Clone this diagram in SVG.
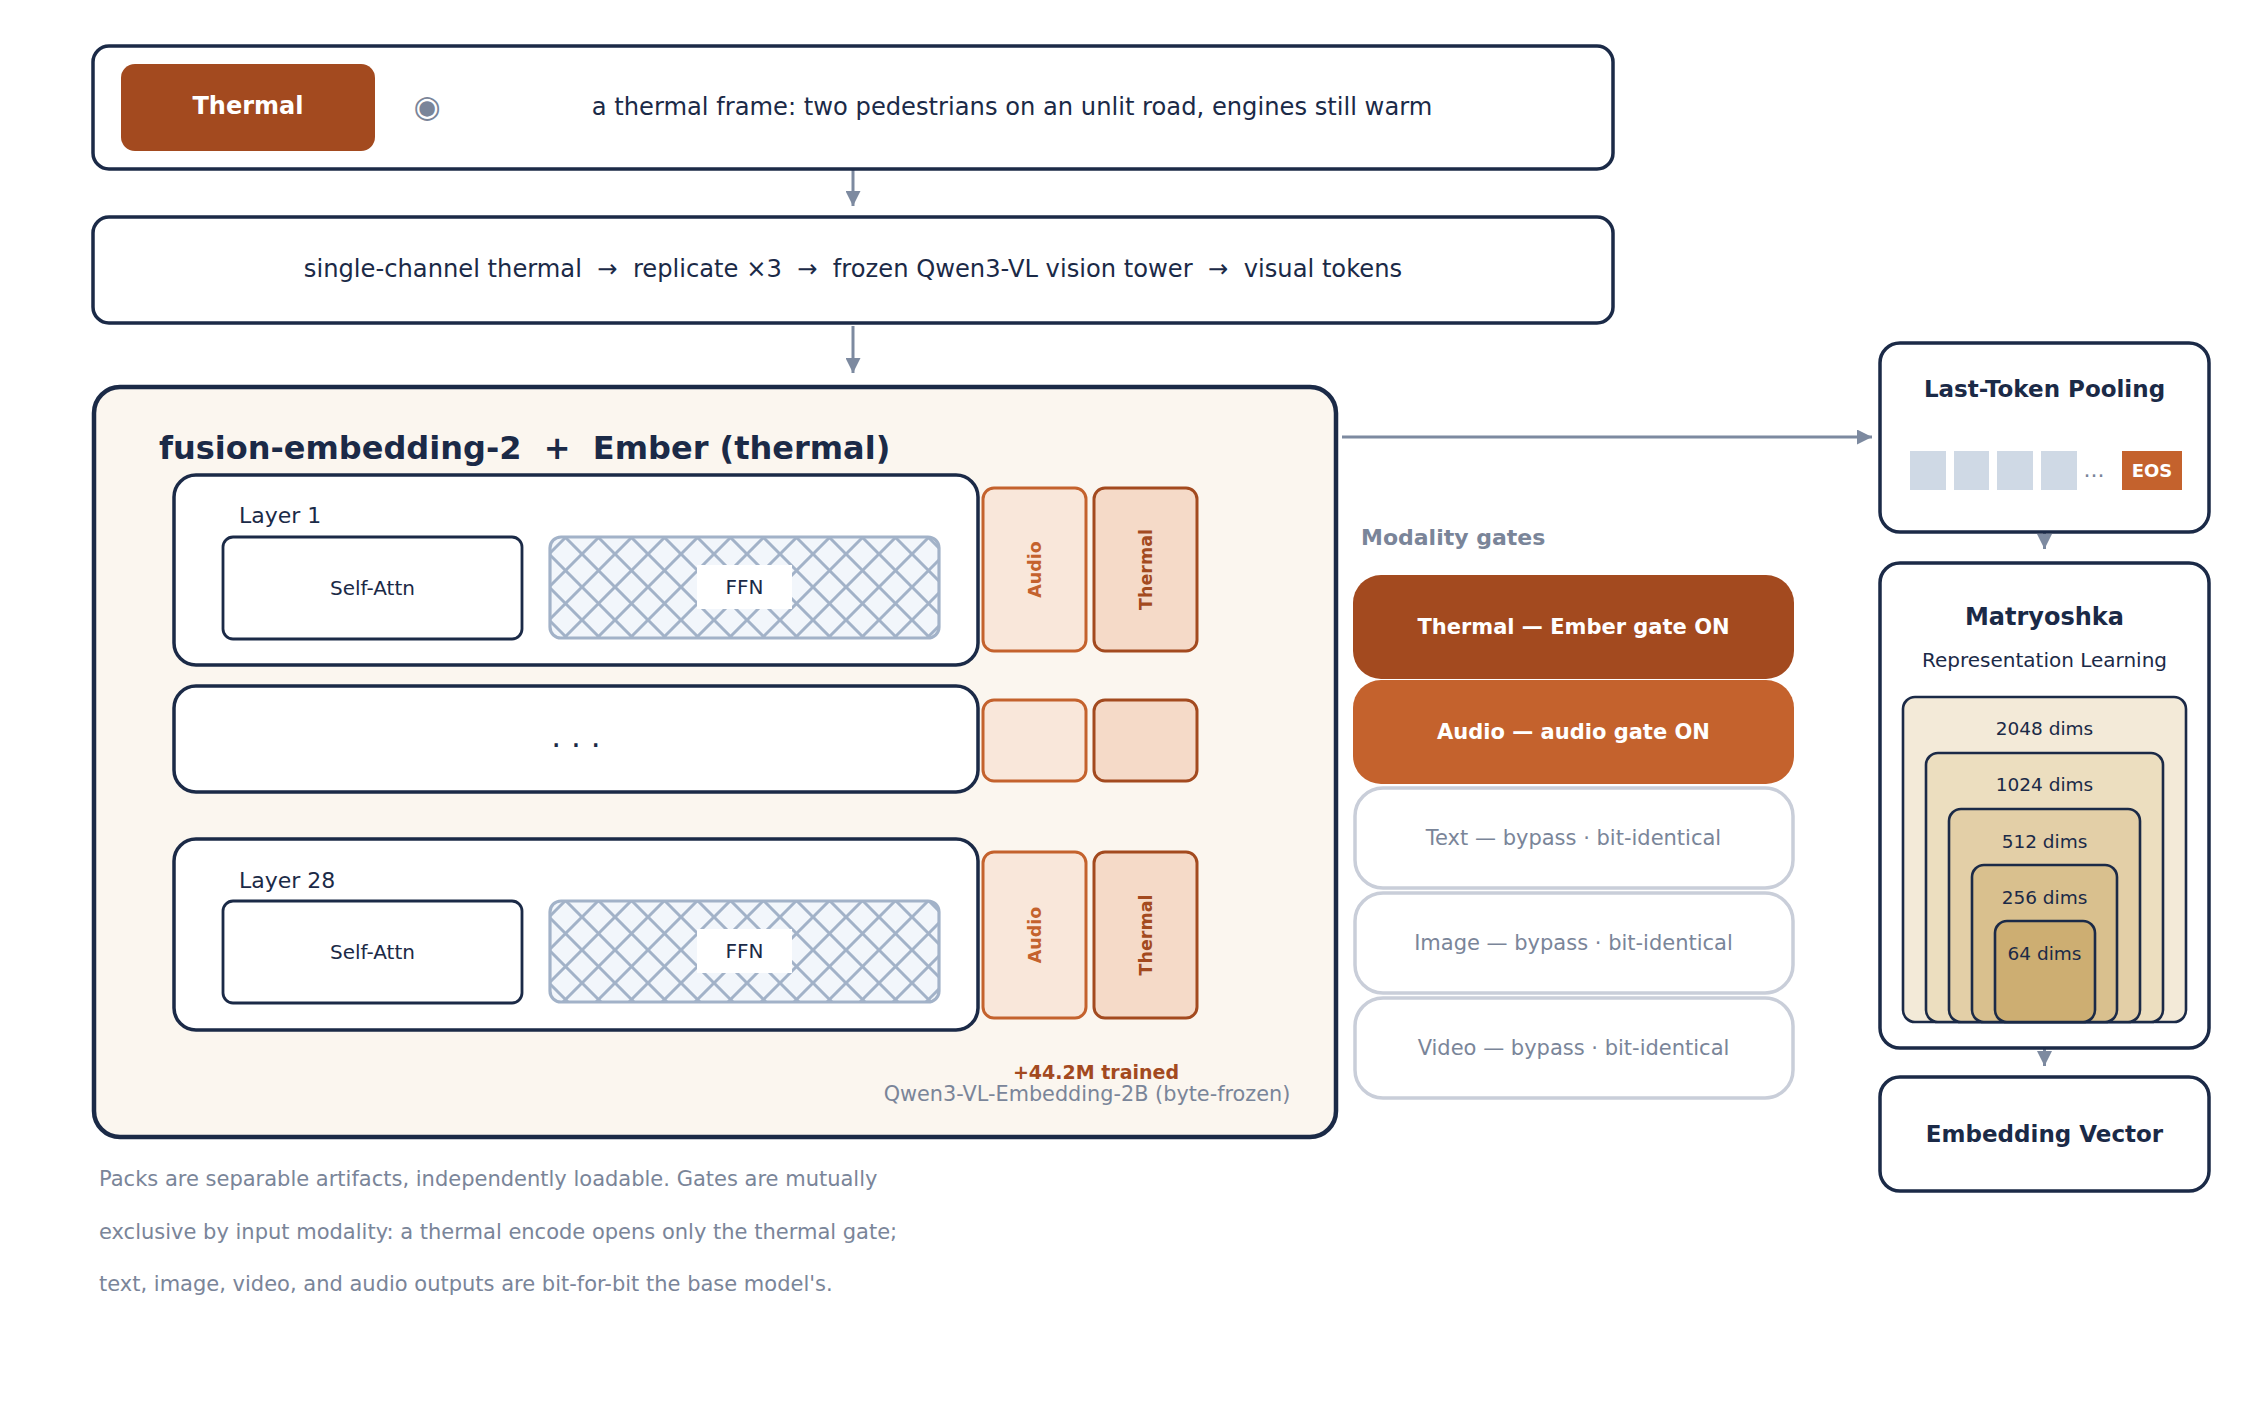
<svg xmlns="http://www.w3.org/2000/svg" width="2263" height="1403" viewBox="0 0 2263 1403">
<defs>
<style>
text{font-family:"DejaVu Sans","Liberation Sans",sans-serif;fill:#1b2a47}
.b{font-weight:bold}
.box{fill:#fff;stroke:#1b2a47;stroke-width:3.5}
.lay{fill:#fff;stroke:#1b2a47;stroke-width:3.5}
.sa{fill:#fff;stroke:#1b2a47;stroke-width:2.8}
.ffn{fill:url(#hatch);stroke:#a2b2c8;stroke-width:3.2}
.au{fill:#f9e7da;stroke:#c4622d;stroke-width:3}
.th{fill:#f5dac8;stroke:#a34a1f;stroke-width:3}
.aut{fill:#c4622d;font-weight:bold;font-size:17.5px}
.tht{fill:#a34a1f;font-weight:bold;font-size:17.5px}
.byp{fill:#fff;stroke:#c9ced9;stroke-width:3.5}
.bypt{fill:#7a8599;font-size:21px}
.ont{fill:#fff;font-weight:bold;font-size:21px}
.gray{fill:#7a8599}
.tok{fill:#cfd9e5}
.nest{stroke:#1b2a47;stroke-width:2.6}
.dim{font-size:18.5px}
.conn{stroke:#7d8aa0;stroke-width:3;fill:none}
</style>
<pattern id="hatch" width="33" height="33" patternUnits="userSpaceOnUse" x="549" y="521">
<rect width="33" height="33" fill="#f2f6fb"/>
<path d="M0,0L33,33M33,0L0,33M-2,31L2,35M31,-2L35,2M-2,2L2,-2M31,35L35,31" stroke="#a2b2c8" stroke-width="3" fill="none"/>
</pattern>
<marker id="ah" markerUnits="userSpaceOnUse" markerWidth="16" markerHeight="15" refX="15" refY="7.5" orient="auto">
<path d="M0,0L15,7.5L0,15z" fill="#7d8aa0"/>
</marker>
</defs>
<rect width="2263" height="1403" fill="#fff"/>

<g id="connectors">
<line class="conn" x1="853" y1="170" x2="853" y2="206" marker-end="url(#ah)"/>
<line class="conn" x1="853" y1="326" x2="853" y2="373" marker-end="url(#ah)"/>
<line class="conn" x1="1342" y1="437" x2="1872" y2="437" marker-end="url(#ah)"/>
<line class="conn" x1="2044.5" y1="532" x2="2044.5" y2="549" marker-end="url(#ah)"/>
<line class="conn" x1="2044.5" y1="1048" x2="2044.5" y2="1066" marker-end="url(#ah)"/>
</g>

<g id="input">
<rect class="box" x="93" y="46" width="1520" height="123" rx="16"/>
<rect x="121" y="64" width="254" height="87" rx="14" fill="#a34a1f"/>
<text class="b" x="248" y="114" font-size="24" text-anchor="middle" style="fill:#fff">Thermal</text>
<text x="427" y="117" font-size="31" text-anchor="middle" class="gray">◉</text>
<text x="1012" y="115" font-size="24.2" text-anchor="middle">a thermal frame: two pedestrians on an unlit road, engines still warm</text>
</g>

<g id="vision">
<rect class="box" x="93" y="217" width="1520" height="106" rx="16"/>
<text x="853" y="277" font-size="24.2" text-anchor="middle" xml:space="preserve">single-channel thermal  →  replicate ×3  →  frozen Qwen3-VL vision tower  →  visual tokens</text>
</g>

<g id="panel">
<rect x="94" y="387" width="1242" height="750" rx="26" fill="#fbf6ef" stroke="#1b2a47" stroke-width="4.5"/>
<text class="b" x="159" y="459" font-size="32" xml:space="preserve">fusion-embedding-2  +  Ember (thermal)</text>
<text class="b" x="1096" y="1079" font-size="19" text-anchor="middle" style="fill:#a34a1f">+44.2M trained</text>
<text x="1087" y="1101" font-size="20.8" text-anchor="middle" class="gray">Qwen3-VL-Embedding-2B (byte-frozen)</text>
</g>

<g id="layer1">
<rect class="lay" x="174" y="475" width="804" height="190" rx="22"/>
<text x="239" y="523" font-size="22">Layer 1</text>
<rect class="sa" x="223" y="537" width="299" height="102" rx="10"/>
<text x="372.5" y="595" font-size="20" text-anchor="middle">Self-Attn</text>
<rect class="ffn" x="550" y="537" width="389" height="101" rx="11"/>
<rect x="697" y="565" width="95" height="44" fill="#fff"/>
<text x="744.5" y="594" font-size="20" text-anchor="middle">FFN</text>
</g>
<g id="packs1">
<rect class="au" x="983" y="488" width="103" height="163" rx="11"/>
<text class="aut" transform="translate(1034.5,569.5) rotate(-90)" text-anchor="middle" dominant-baseline="central">Audio</text>
<rect class="th" x="1094" y="488" width="103" height="163" rx="11"/>
<text class="tht" transform="translate(1145.5,569.5) rotate(-90)" text-anchor="middle" dominant-baseline="central">Thermal</text>
</g>

<g id="layer-mid">
<rect class="lay" x="174" y="686" width="804" height="106" rx="22"/>
<text x="576" y="747" font-size="31" text-anchor="middle">. . .</text>
</g>
<g id="packs-mid">
<rect class="au" x="983" y="700" width="103" height="81" rx="11"/>
<rect class="th" x="1094" y="700" width="103" height="81" rx="11"/>
</g>

<g id="layer28">
<rect class="lay" x="174" y="839" width="804" height="191" rx="22"/>
<text x="239" y="888" font-size="22">Layer 28</text>
<rect class="sa" x="223" y="901" width="299" height="102" rx="10"/>
<text x="372.5" y="959" font-size="20" text-anchor="middle">Self-Attn</text>
<rect class="ffn" x="550" y="901" width="389" height="101" rx="11"/>
<rect x="697" y="929" width="95" height="44" fill="#fff"/>
<text x="744.5" y="958" font-size="20" text-anchor="middle">FFN</text>
</g>
<g id="packs28">
<rect class="au" x="983" y="852" width="103" height="166" rx="11"/>
<text class="aut" transform="translate(1034.5,935) rotate(-90)" text-anchor="middle" dominant-baseline="central">Audio</text>
<rect class="th" x="1094" y="852" width="103" height="166" rx="11"/>
<text class="tht" transform="translate(1145.5,935) rotate(-90)" text-anchor="middle" dominant-baseline="central">Thermal</text>
</g>

<g id="gates">
<text class="b gray" x="1361" y="545" font-size="22">Modality gates</text>
<rect x="1353" y="575" width="441" height="104" rx="28" fill="#a34a1f"/>
<text class="ont" x="1573.5" y="634" text-anchor="middle" style="fill:#fff">Thermal — Ember gate ON</text>
<rect x="1353" y="680" width="441" height="104" rx="28" fill="#c4622d"/>
<text class="ont" x="1573.5" y="739" text-anchor="middle" style="fill:#fff">Audio — audio gate ON</text>
<rect class="byp" x="1355" y="788" width="438" height="100" rx="28"/>
<text class="bypt" x="1573.5" y="845" text-anchor="middle">Text — bypass · bit-identical</text>
<rect class="byp" x="1355" y="893" width="438" height="100" rx="28"/>
<text class="bypt" x="1573.5" y="950" text-anchor="middle">Image — bypass · bit-identical</text>
<rect class="byp" x="1355" y="998" width="438" height="100" rx="28"/>
<text class="bypt" x="1573.5" y="1055" text-anchor="middle">Video — bypass · bit-identical</text>
</g>

<g id="pooling">
<rect class="box" x="1880" y="343" width="329" height="189" rx="20"/>
<text class="b" x="2044.5" y="397" font-size="23" text-anchor="middle">Last-Token Pooling</text>
<rect class="tok" x="1910" y="451" width="36" height="39"/>
<rect class="tok" x="1954" y="451" width="35" height="39"/>
<rect class="tok" x="1997" y="451" width="36" height="39"/>
<rect class="tok" x="2041" y="451" width="36" height="39"/>
<text x="2094" y="477" font-size="22" text-anchor="middle" class="gray">...</text>
<rect x="2122" y="451" width="60" height="39" fill="#c4622d"/>
<text class="b" x="2152" y="477" font-size="18" text-anchor="middle" style="fill:#fff">EOS</text>
</g>

<g id="matryoshka">
<rect class="box" x="1880" y="563" width="329" height="485" rx="20"/>
<text class="b" x="2044.5" y="625" font-size="24" text-anchor="middle">Matryoshka</text>
<text x="2044.5" y="667" font-size="20" text-anchor="middle">Representation Learning</text>
<rect class="nest" x="1903" y="697" width="283" height="325" rx="12" fill="#f3ead8"/>
<text class="dim" x="2044.5" y="735" text-anchor="middle">2048 dims</text>
<rect class="nest" x="1926" y="753" width="237" height="269" rx="12" fill="#ecdebf"/>
<text class="dim" x="2044.5" y="791" text-anchor="middle">1024 dims</text>
<rect class="nest" x="1949" y="809" width="191" height="213" rx="12" fill="#e3cfa7"/>
<text class="dim" x="2044.5" y="847.5" text-anchor="middle">512 dims</text>
<rect class="nest" x="1972" y="865" width="145" height="157" rx="12" fill="#d9c08e"/>
<text class="dim" x="2044.5" y="904" text-anchor="middle">256 dims</text>
<rect class="nest" x="1995" y="921" width="100" height="101" rx="12" fill="#cdae72"/>
<text class="dim" x="2044.5" y="959.5" text-anchor="middle">64 dims</text>
</g>

<g id="embedding">
<rect class="box" x="1880" y="1077" width="329" height="114" rx="20"/>
<text class="b" x="2044.5" y="1142" font-size="23" text-anchor="middle">Embedding Vector</text>
</g>

<g id="footnote">
<text class="gray" x="99" y="1186" font-size="21">Packs are separable artifacts, independently loadable. Gates are mutually</text>
<text class="gray" x="99" y="1239" font-size="21">exclusive by input modality: a thermal encode opens only the thermal gate;</text>
<text class="gray" x="99" y="1291" font-size="21">text, image, video, and audio outputs are bit-for-bit the base model's.</text>
</g>
</svg>
